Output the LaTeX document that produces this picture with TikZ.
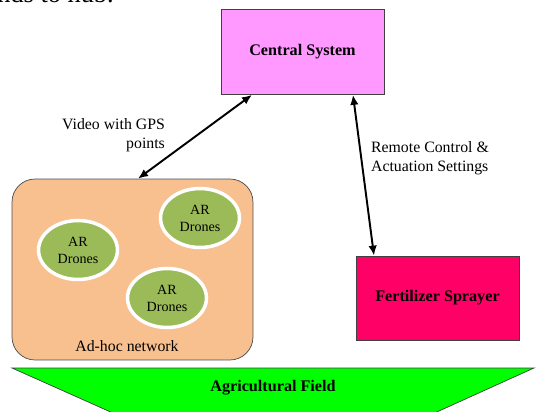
\documentclass[tikz,border=0pt]{standalone}
\usepackage{fontspec}
\setmainfont{Liberation Serif}
\usetikzlibrary{arrows.meta,positioning,calc,shapes.geometric}
\definecolor{hubpink}{HTML}{FF99FF}
\definecolor{sprayred}{HTML}{FF0066}
\definecolor{netpeach}{HTML}{F9C08F}
\definecolor{dronegreen}{HTML}{9BBB59}
\definecolor{fieldgreen}{HTML}{00FF00}

\begin{document}
\begin{tikzpicture}[x=0.02cm,y=-0.02cm,font=\fontsize{9}{10.8}\selectfont,
  link/.style={{Latex[length=2mm,width=1.7mm]}-{Latex[length=2mm,width=1.7mm]},line width=1.1pt},
  unit/.style={draw=black!75,minimum width=3.26cm,minimum height=1.7cm,font=\fontsize{9.2}{11}\selectfont\bfseries},
  drone/.style={ellipse,draw=white,line width=2pt,fill=dronegreen,minimum width=1.58cm,minimum height=1.18cm,inner sep=0pt,align=center,font=\fontsize{8}{9.6}\selectfont},
  note/.style={inner sep=1pt}]
\useasboundingbox (0,0) rectangle (541,412);
\clip (0,0) rectangle (541,412);
\node[anchor=base west,inner sep=0pt,font=\fontsize{15}{18}\selectfont] (frag) at (-3,3) {nds to hub.};
\node[unit,fill=hubpink] (hub) at (302.5,52) {Central System};
\node[unit,fill=sprayred,minimum height=1.68cm] (sprayer) at (437.5,298) {Fertilizer Sprayer};
\node[draw=black!70,fill=netpeach,rounded corners=0.46cm,minimum width=4.82cm,minimum height=3.62cm] (net) at (132.5,269.5) {};
\node[drone] (d1) at (78,250) {AR\\Drones};
\node[drone] (d2) at (200,218) {AR\\Drones};
\node[drone] (d3) at (167,298) {AR\\Drones};
\node[note] (netlbl) at (127,346) {Ad-hoc network};
% field
\draw[black!75,fill=fieldgreen] (12,368) -- (534,368) -- (397,430) -- (151,430) -- cycle;
\node[font=\fontsize{9.2}{11}\selectfont\bfseries] (field) at (273,388) {Agricultural Field};
% links
\draw[link] ($(hub.south)+(-50.5,0)$) -- ($(net.north)+(5.5,0)$);
\draw[link] ($(hub.south)+(50.5,0)$) -- ($(sprayer.north)+(-63.5,0)$);
\node[note,anchor=east,align=right] (vidlbl) at (167,135.5) {Video with GPS\\points};
\node[note,anchor=west,align=left] (ctrllbl) at (369,158.5) {Remote Control \&\\Actuation Settings};
\end{tikzpicture}
\end{document}
